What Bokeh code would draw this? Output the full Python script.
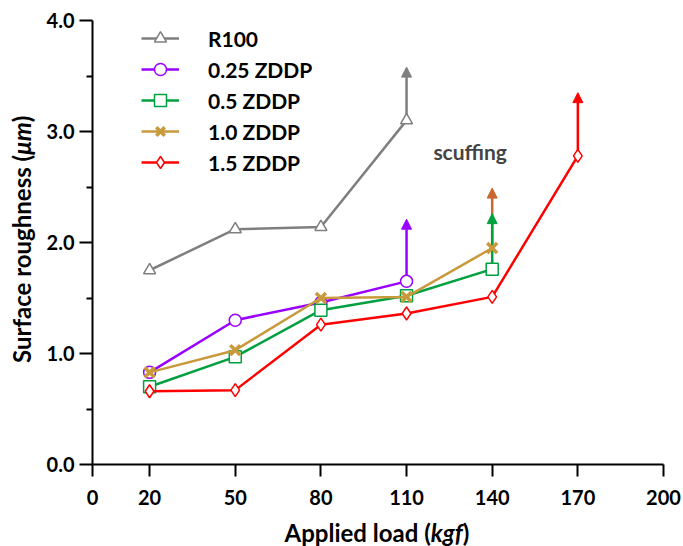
from bokeh.embed import file_html
from bokeh.layouts import column, row
from bokeh.models import (Arrow, Div, FixedTicker, Label, Legend, LegendItem,
                          NormalHead, NumeralTickFormatter, Range1d)
from bokeh.plotting import figure
from bokeh.resources import INLINE

# ---- data -------------------------------------------------------------
loads = [20, 50, 80, 110, 140, 170]
x_ticks = [0, 20, 50, 80, 110, 140, 170, 200]
y_ticks = [0, 1, 2, 3, 4]
y_minor = [0.5, 1.5, 2.5, 3.5]

names = ["R100", "0.25 ZDDP", "0.5 ZDDP", "1.0 ZDDP", "1.5 ZDDP"]
r100 = [1.75, 2.12, 2.14, 3.10]
zddp_025 = [0.83, 1.30, 1.46, 1.65]
zddp_05 = [0.70, 0.97, 1.39, 1.52, 1.76]
zddp_10 = [0.83, 1.03, 1.50, 1.51, 1.95]
zddp_15 = [0.66, 0.67, 1.26, 1.36, 1.51, 2.78]

# scuffing onset arrows
scuff_load = [110, 110, 140, 140, 170]
scuff_from = [3.10, 1.65, 1.95, 1.76, 2.78]
scuff_to = [3.58, 2.21, 2.49, 2.26, 3.35]
scuff_color = ["#7F7F7F", "#9900FF", "#C8672F", "#00A040", "#FF0000"]

x_title = "Applied load (<i>kgf</i>)"
y_title = "Surface roughness (<i>\u03bcm</i>)"

# ---- styling ------------------------------------------------------------
FONT = "Lato"
colors = ["#7F7F7F", "#9900FF", "#00A040", "#C99A3B", "#FF0000"]
markers = ["triangle", "circle", "square", "x", "diamond"]
msizes = [12, 12, 12, 14, 13]
mwidths = [1.5, 1.5, 1.5, 3.5, 1.5]
values = [r100, zddp_025, zddp_05, zddp_10, zddp_15]

YDIV_W = 36
XDIV_H = 32
FIG_W = 683 - YDIV_W
FIG_H = 546 - XDIV_H

p = figure(width=FIG_W, height=FIG_H,
           x_range=Range1d(0, 200), y_range=Range1d(0, 4),
           output_backend="svg", toolbar_location=None,
           min_border_left=92 - YDIV_W, min_border_right=20,
           min_border_top=20, min_border_bottom=FIG_H - 464)
p.outline_line_color = None
p.grid.visible = False
p.background_fill_color = "white"
p.border_fill_color = "white"

for ax in (p.xaxis, p.yaxis):
    ax.axis_line_width = 2
    ax.axis_line_color = "black"
    ax.major_tick_line_width = 2
    ax.minor_tick_line_width = 2
    ax.major_tick_in = 0
    ax.minor_tick_in = 0
    ax.major_label_text_font = FONT
    ax.major_label_text_font_style = "bold"
    ax.major_label_text_font_size = "20px"
    ax.major_label_text_color = "black"

p.xaxis.ticker = FixedTicker(ticks=x_ticks)
p.xaxis.major_tick_out = 12
p.xaxis.minor_tick_out = 0
p.xaxis.major_label_standoff = 13

p.yaxis.ticker = FixedTicker(ticks=y_ticks, minor_ticks=y_minor)
p.yaxis.formatter = NumeralTickFormatter(format="0.0")
p.yaxis.major_tick_out = 13
p.yaxis.minor_tick_out = 6
p.yaxis.major_label_standoff = 5

# scuffing arrows sit beneath the markers
for x0, y0, y1, c in zip(scuff_load, scuff_from, scuff_to, scuff_color):
    p.add_layout(Arrow(end=NormalHead(size=10, fill_color=c, line_color=c),
                       x_start=x0, y_start=y0, x_end=x0, y_end=y1,
                       line_color=c, line_width=2.5, level="underlay"))

items = []
for name, vals, c, m, ms, mw in zip(names, values, colors, markers, msizes, mwidths):
    xs = loads[:len(vals)]
    ln = p.line(xs, vals, line_color=c, line_width=2.5)
    sc = p.scatter(xs, vals, marker=m, size=ms, line_color=c, line_width=mw,
                   fill_color="white")
    items.append(LegendItem(label=name, renderers=[ln, sc]))

# legend anchored by its bottom-left corner, measured from the frame's bottom-left
legend = Legend(items=items, location=(49, 287), margin=0, padding=5,
                border_line_color=None, background_fill_alpha=0,
                glyph_width=38, glyph_height=30, label_height=20,
                spacing=1, label_standoff=29,
                label_text_font=FONT, label_text_font_style="bold",
                label_text_font_size="21px", label_text_color="black")
p.add_layout(legend)

p.add_layout(Label(x=119.4, y=2.82, text="scuffing", text_font=FONT,
                   text_font_style="bold", text_font_size="21px",
                   text_align="left", text_baseline="middle"))

# axis titles as HTML so the units can be set in italic
title_css = "font-family:Lato;font-weight:bold;font-size:24px;color:black;white-space:nowrap;"
x_div = Div(
    text=f'<div style="{title_css}margin-left:71px;width:612px;text-align:center;'
         f'line-height:{XDIV_H}px;padding-top:3px;">{x_title}</div>',
    width=683, height=XDIV_H, margin=0)
y_div = Div(
    text=f'<div style="{title_css}writing-mode:vertical-rl;transform:rotate(180deg);'
         f'height:478px;width:30px;line-height:30px;margin-left:7px;text-align:center;">'
         f'{y_title}</div>',
    width=YDIV_W, height=FIG_H, margin=0)

layout = column(row(y_div, p, spacing=0), x_div, spacing=0)

open("out.html", "w").write(file_html(layout, INLINE))
